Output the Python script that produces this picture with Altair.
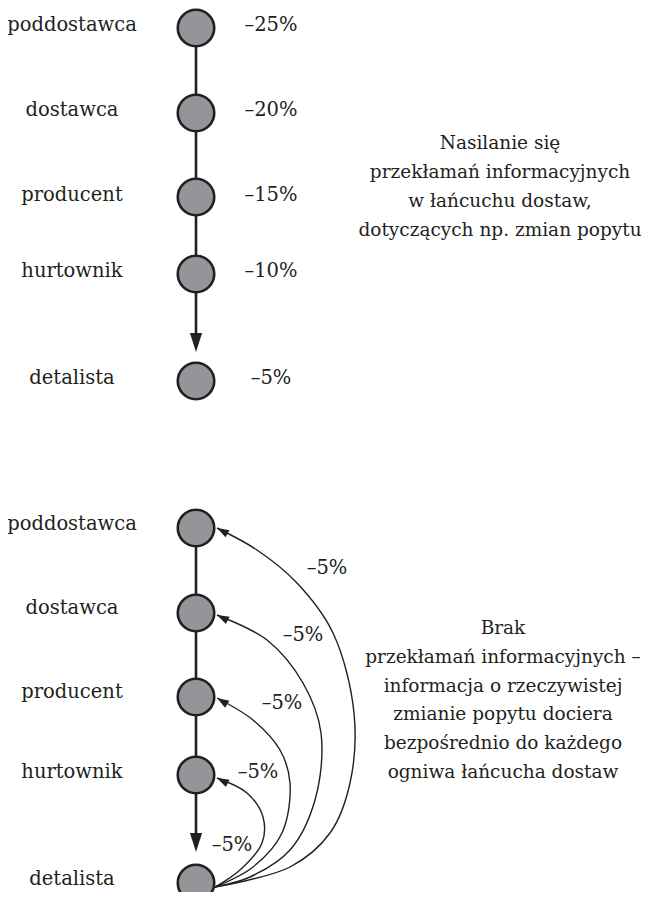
import math
import altair as alt
import pandas as pd

# ---------------- data ----------------
stages = ["poddostawca", "dostawca", "producent", "hurtownik", "detalista"]
top_changes = ["–25%", "–20%", "–15%", "–10%", "–5%"]
bottom_changes = ["–5%", "–5%", "–5%", "–5%", "–5%"]
top_note = ["Nasilanie się", "przekłamań informacyjnych",
            "w łańcuchu dostaw,", "dotyczących np. zmian popytu"]
bottom_note = ["Brak", "przekłamań informacyjnych –", "informacja o rzeczywistej",
               "zmianie popytu dociera", "bezpośrednio do każdego",
               "ogniwa łańcucha dostaw"]

# ---------------- layout (page pixels) ----------------
NODE_X = 196
LABEL_X = 72
PCT_X = 271
TOP_Y = [28, 113, 197, 274, 381]
BOT_Y = [528, 613, 697, 775, 883]
TOP_LABEL_Y = [25, 110, 195, 271, 378]
BOT_LABEL_Y = [524, 608, 692, 772, 879]
ARROW_TIP = [352, 852]
TOP_NOTE = (500, 143, 29.0)
BOT_NOTE = (503, 628, 28.8)
ARC_LABEL_POS = [(327, 568), (303, 635), (282, 703), (258, 772), (232, 845)]
ARC_GUIDES = [
    [(217, 528), (257, 550), (297, 583), (333, 633), (354, 713), (350, 783), (330, 833), (290, 867), (215, 887)],
    [(217, 615), (267, 640), (303, 683), (321, 733), (315, 800), (290, 850), (250, 877), (215, 887)],
    [(217, 698), (253, 720), (280, 750), (290, 783), (282, 833), (253, 867), (215, 887)],
    [(217, 778), (247, 793), (263, 817), (262, 843), (240, 870), (215, 887)],
]

INK = "#231f20"
FILL = "#939598"
FONT = "DejaVu Serif"
FS = 19.5
FS_NOTE = 18.5

# ---------------- tables ----------------
nodes = pd.DataFrame(
    [{"stage": s, "x": NODE_X, "y": y} for s, y in zip(stages, TOP_Y)]
    + [{"stage": s, "x": NODE_X, "y": y} for s, y in zip(stages, BOT_Y)]
)
labels = pd.DataFrame(
    [{"t": s, "x": LABEL_X, "y": y} for s, y in zip(stages, TOP_LABEL_Y)]
    + [{"t": s, "x": LABEL_X, "y": y} for s, y in zip(stages, BOT_LABEL_Y)]
)
pcts = pd.DataFrame(
    [{"t": p, "x": PCT_X, "y": y} for p, y in zip(top_changes, TOP_LABEL_Y)]
    + [{"t": p, "x": x, "y": y} for p, (x, y) in zip(bottom_changes, ARC_LABEL_POS)]
)
notes = pd.DataFrame(
    [{"t": t, "x": TOP_NOTE[0], "y": TOP_NOTE[1] + i * TOP_NOTE[2]} for i, t in enumerate(top_note)]
    + [{"t": t, "x": BOT_NOTE[0], "y": BOT_NOTE[1] + i * BOT_NOTE[2]} for i, t in enumerate(bottom_note)]
)
ARROW_LEN = 19
stems = pd.DataFrame([
    {"x": NODE_X, "y": TOP_Y[0], "y2": ARROW_TIP[0] - ARROW_LEN + 2},
    {"x": NODE_X, "y": BOT_Y[0], "y2": ARROW_TIP[1] - ARROW_LEN + 2},
])
stem_heads = pd.DataFrame([{"x": NODE_X, "y": t} for t in ARROW_TIP])

arc_rows, arc_heads = [], []
for k, pts in enumerate(ARC_GUIDES):
    for i, (x, y) in enumerate(pts):
        arc_rows.append({"arc": k, "i": i, "x": x, "y": y})
    (tx, ty), (nx, ny) = pts[0], pts[1]
    dx, dy = tx - nx, ty - ny
    ang = math.degrees(math.atan2(dx, -dy)) % 360
    arc_heads.append({"x": tx, "y": ty, "a": ang})
arcs = pd.DataFrame(arc_rows)
arc_heads = pd.DataFrame(arc_heads)

# ---------------- encodings ----------------
X = alt.X("x:Q", scale=alt.Scale(domain=[8, 652], nice=False, zero=False), axis=None)
Y = alt.Y("y:Q", scale=alt.Scale(domain=[8, 892], nice=False, zero=False, reverse=True), axis=None)

ARROW_PATH = "M0,0 L-0.34,1 L0.34,1 Z"

stem_layer = alt.Chart(stems).mark_rule(color=INK, strokeWidth=2.6).encode(
    x=X, y=Y, y2="y2:Q")
stem_head_layer = alt.Chart(stem_heads).mark_point(
    shape="M0,0 L-0.32,1 L0.32,1 Z", size=(2 * ARROW_LEN) ** 2, angle=180,
    filled=True, color=INK, opacity=1, strokeWidth=0).encode(x=X, y=Y)

arc_layer = alt.Chart(arcs).mark_line(
    color=INK, strokeWidth=1.4, interpolate="catmull-rom").encode(
    x=X, y=Y, detail="arc:N", order="i:Q")
arc_head_layer = alt.Chart(arc_heads).mark_point(
    shape=ARROW_PATH, size=24 ** 2, filled=True, color=INK, opacity=1,
    strokeWidth=0).encode(x=X, y=Y, angle=alt.Angle("a:Q", scale=None))

node_layer = alt.Chart(nodes).mark_point(
    shape="circle", size=1330, filled=True, fill=FILL, stroke=INK,
    strokeWidth=2.6, opacity=1, fillOpacity=1).encode(x=X, y=Y)

label_layer = alt.Chart(labels).mark_text(
    font=FONT, fontSize=FS, color=INK, align="center", baseline="middle").encode(
    x=X, y=Y, text="t:N")
pct_layer = alt.Chart(pcts).mark_text(
    font=FONT, fontSize=FS, color=INK, align="center", baseline="middle").encode(
    x=X, y=Y, text="t:N")
note_layer = alt.Chart(notes).mark_text(
    font=FONT, fontSize=FS_NOTE, color=INK, align="center", baseline="middle").encode(
    x=X, y=Y, text="t:N")

chart = alt.layer(
    stem_layer, stem_head_layer, arc_layer, arc_head_layer, node_layer,
    label_layer, pct_layer, note_layer,
).properties(
    width=644, height=884, padding=0, autosize=alt.AutoSizeParams(type="none")
).configure_view(stroke=None)

chart.save("out.html", embed_options={"renderer": "svg", "actions": False})
